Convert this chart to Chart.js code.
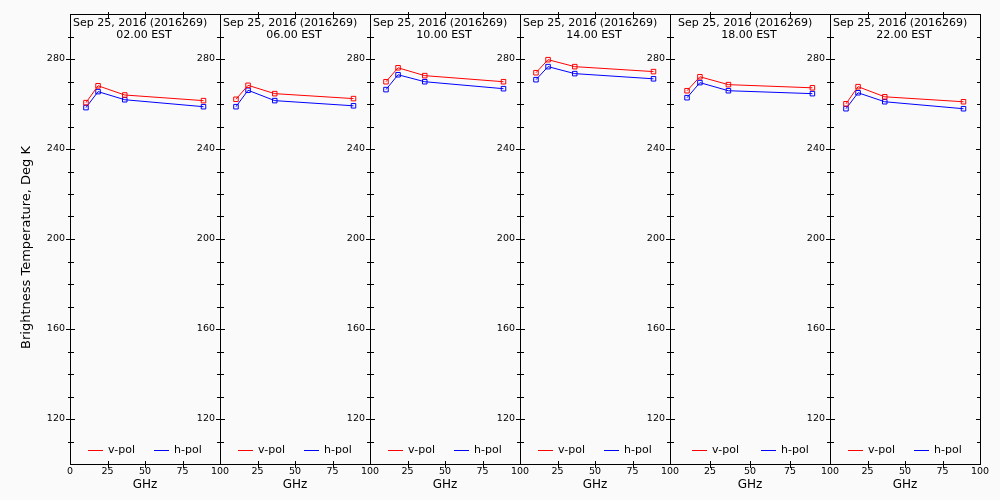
<!DOCTYPE html>
<html><head><meta charset="utf-8">
<script src="https://cdn.jsdelivr.net/npm/chart.js@4.4.1/dist/chart.umd.min.js"></script>
<style>
html,body{margin:0;padding:0;background:#fafafa;}
#wrap{position:relative;width:1000px;height:500px;overflow:hidden;background:#fafafa;}
#wrap canvas{position:absolute;left:0;top:0;}
</style></head><body><div id="wrap"></div>
<script>
// ---- data ----
const freqGHz = [10.65, 18.7, 36.5, 89.0];
const dateLabel = 'Sep 25, 2016 (2016269)';
const hourLabels = ['02.00 EST', '06.00 EST', '10.00 EST', '14.00 EST', '18.00 EST', '22.00 EST'];
const seriesNames = ['v-pol', 'h-pol'];
const vPol02 = [260.6, 268.1, 264.0, 261.5];
const hPol02 = [258.4, 265.5, 261.9, 258.8];
const vPol06 = [262.1, 268.3, 264.6, 262.4];
const hPol06 = [258.8, 266.1, 261.5, 259.2];
const vPol10 = [269.9, 276.1, 272.6, 269.9];
const hPol10 = [266.4, 273.0, 269.9, 266.8];
const vPol14 = [273.9, 279.7, 276.6, 274.4];
const hPol14 = [270.8, 276.6, 273.5, 271.2];
const vPol18 = [265.9, 272.1, 268.6, 267.2];
const hPol18 = [262.8, 269.5, 265.9, 264.6];
const vPol22 = [260.1, 267.7, 263.2, 261.0];
const hPol22 = [257.9, 265.0, 261.0, 257.9];
const vPolByPanel = [vPol02, vPol06, vPol10, vPol14, vPol18, vPol22];
const hPolByPanel = [hPol02, hPol06, hPol10, hPol14, hPol18, hPol22];
const yTickValues = [120, 160, 200, 240, 280];
const xTickValues = [0, 25, 50, 75, 100];
const yTitle = 'Brightness Temperature, Deg K';
const xTitle = 'GHz';

// ---- layout / style ----
const panelEdges = [70, 220, 370, 520, 670, 830, 980];
const plotTop = 14, plotBottom = 464;
const yMinorStep = 10;
const seriesColors = ['#ff0000', '#0000ff'];
const FONT = "'DejaVu Sans', sans-serif";
Chart.defaults.font.family = FONT;
Chart.defaults.color = '#000';

const framePlugin = {
  id: 'frame',
  afterDraw(chart) {
    const {ctx, chartArea: a, scales: {x, y}} = chart;
    const idx = chart.options.plugins.frame.panel;
    const L = Math.round(a.left), R = Math.round(a.right), T = Math.round(a.top), B = Math.round(a.bottom);
    ctx.save();
    ctx.strokeStyle = '#000'; ctx.lineWidth = 1;
    ctx.strokeRect(L + 0.5, T + 0.5, R - L, B - T);
    ctx.beginPath();
    for (let v = y.min + yMinorStep; v < y.max; v += yMinorStep) {
      const py = Math.round(y.getPixelForValue(v)) + 0.5;
      const major = yTickValues.includes(v);
      ctx.moveTo(L - (major ? 4 : 2), py); ctx.lineTo(L + (major ? 5 : 4), py);
      ctx.moveTo(R - (major ? 4 : 3), py); ctx.lineTo(R + 1, py);
    }
    for (const v of xTickValues) {
      if (v <= x.min || v >= x.max) continue;
      const px = Math.round(x.getPixelForValue(v)) + 0.5;
      ctx.moveTo(px, T - 2); ctx.lineTo(px, T + 5);
      ctx.moveTo(px, B - 3); ctx.lineTo(px, B + 4);
    }
    ctx.stroke();

    // panel title
    const cx = (a.left + a.right) / 2;
    ctx.fillStyle = '#000';
    ctx.font = "11px " + FONT;
    ctx.textBaseline = 'alphabetic';
    ctx.textAlign = 'left';
    ctx.fillText(dateLabel, cx - 72, 26);
    ctx.textAlign = 'center';
    ctx.fillText(hourLabels[idx], cx - 1, 38);

    // legend inside plot
    const ds = chart.data.datasets;
    const lineLen = 15, gap = 5;
    const widths = ds.map(d => lineLen + gap + ctx.measureText(d.label).width);
    const free = (a.right - a.left) - widths.reduce((s, w) => s + w, 0);
    const sp = free / (ds.length + 1);
    let xpos = a.left + sp;
    const ly = 450.5;
    ctx.textAlign = 'left';
    ctx.textBaseline = 'middle';
    ds.forEach((d, k) => {
      ctx.beginPath();
      ctx.strokeStyle = d.borderColor;
      ctx.moveTo(Math.round(xpos), ly); ctx.lineTo(Math.round(xpos) + lineLen, ly);
      ctx.stroke();
      ctx.fillText(d.label, Math.round(xpos) + lineLen + gap, ly);
      xpos += widths[k] + sp;
    });

    // y-axis title, first panel only
    if (idx === 0) {
      ctx.save();
      ctx.translate(27, 247.5);
      ctx.rotate(-Math.PI / 2);
      ctx.font = "13px " + FONT;
      ctx.textAlign = 'center';
      ctx.textBaseline = 'middle';
      ctx.fillText(yTitle, 0, 0);
      ctx.restore();
    }
    ctx.restore();
  }
};

const wrap = document.getElementById('wrap');
for (let i = 0; i < 6; i++) {
  const L = panelEdges[i], R = panelEdges[i + 1];
  const cv = document.createElement('canvas');
  cv.width = 1000; cv.height = 500;
  cv.style.width = '1000px'; cv.style.height = '500px';
  wrap.appendChild(cv);
  const mk = (vals) => freqGHz.map((f, k) => ({x: f, y: vals[k]}));
  new Chart(cv, {
    type: 'line',
    data: {
      datasets: [
        {label: seriesNames[0], data: mk(vPolByPanel[i]), borderColor: seriesColors[0], pointBorderColor: seriesColors[0]},
        {label: seriesNames[1], data: mk(hPolByPanel[i]), borderColor: seriesColors[1], pointBorderColor: seriesColors[1]}
      ]
    },
    options: {
      responsive: false,
      devicePixelRatio: 1,
      animation: false,
      events: [],
      layout: {padding: {left: L - 40, right: 1000 - R, top: plotTop, bottom: 0}},
      elements: {
        line: {borderWidth: 1, tension: 0, fill: false},
        point: {pointStyle: 'rect', radius: 3.2, borderWidth: 1, backgroundColor: 'rgba(0,0,0,0)'}
      },
      plugins: {legend: {display: false}, title: {display: false}, tooltip: {enabled: false}, frame: {panel: i}},
      scales: {
        x: {
          type: 'linear', min: 0, max: 100,
          afterBuildTicks: s => { s.ticks = xTickValues.map(v => ({value: v})); },
          afterFit: s => { s.height = 500 - plotBottom; },
          ticks: {autoSkip: false, maxRotation: 0, padding: 2, color: '#000', font: {size: 9.5},
            callback: v => (i > 0 && v === 0) ? '' : String(v)},
          grid: {display: false, drawTicks: false},
          border: {display: false},
          title: {display: true, text: xTitle, color: '#000', font: {size: 12}, padding: {top: 0, bottom: 8}}
        },
        y: {
          type: 'linear', min: 100, max: 300,
          afterBuildTicks: s => { s.ticks = yTickValues.map(v => ({value: v})); },
          afterFit: s => { s.width = 40; },
          ticks: {autoSkip: false, padding: 5, color: '#000', font: {size: 9.5}},
          grid: {display: false, drawTicks: false},
          border: {display: false}
        }
      }
    },
    plugins: [framePlugin]
  });
}
</script></body></html>
